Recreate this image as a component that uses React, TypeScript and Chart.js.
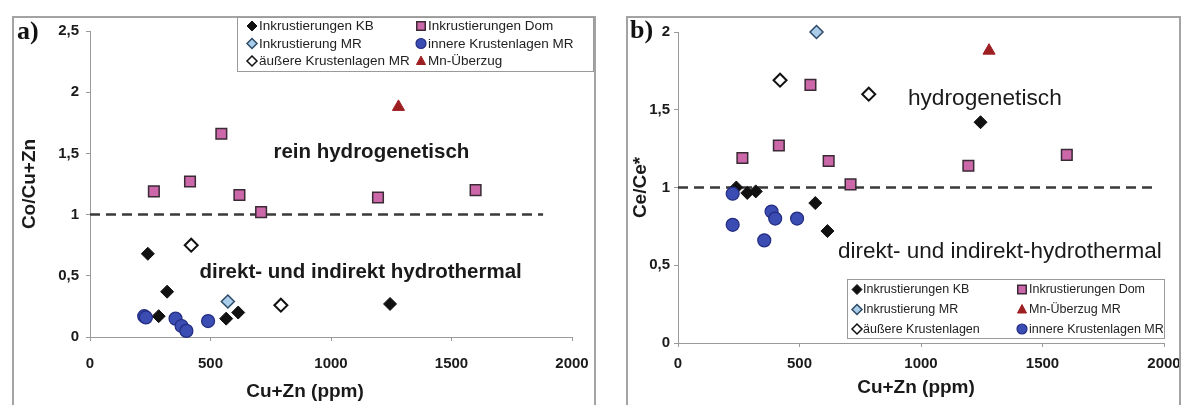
import React, { useEffect, useRef } from 'react';
import { Chart, registerables } from 'chart.js';

Chart.register(...registerables);

const FONT = "'Liberation Sans', Arial, Helvetica, sans-serif";
const SERIF = "'Liberation Serif', 'Times New Roman', serif";

// ---------------- axis ticks ----------------
const xTickValues = [0, 500, 1000, 1500, 2000];
const yTickValuesA = [0, 0.5, 1, 1.5, 2, 2.5];
const yTickValuesB = [0, 0.5, 1, 1.5, 2];

// ---------------- panel a: Co/Cu+Zn vs Cu+Zn ----------------
const kbXA = [240, 285, 320, 565, 615, 1245];
const kbYA = [0.68, 0.17, 0.37, 0.15, 0.2, 0.27];
const domXA = [265, 415, 545, 620, 710, 1195, 1600];
const domYA = [1.19, 1.27, 1.66, 1.16, 1.02, 1.14, 1.2];
const mrXA = [572];
const mrYA = [0.29];
const innerXA = [225, 232, 355, 380, 400, 490];
const innerYA = [0.17, 0.16, 0.15, 0.09, 0.05, 0.13];
const outerXA = [420, 792];
const outerYA = [0.75, 0.26];
const mnXA = [1280];
const mnYA = [1.88];
const refXA = [0, 1880];
const refYA = [1, 1];

// ---------------- panel b: Ce/Ce* vs Cu+Zn ----------------
const kbXB = [240, 285, 320, 565, 615, 1245];
const kbYB = [1.0, 0.965, 0.975, 0.9, 0.72, 1.42];
const domXB = [265, 415, 545, 620, 710, 1195, 1600];
const domYB = [1.19, 1.27, 1.66, 1.17, 1.02, 1.14, 1.21];
const mrXB = [570];
const mrYB = [2.0];
const innerXB = [225, 225, 355, 385, 400, 490];
const innerYB = [0.96, 0.76, 0.66, 0.845, 0.8, 0.8];
const outerXB = [420, 785];
const outerYB = [1.69, 1.6];
const mnXB = [1280];
const mnYB = [1.88];
const refXB = [0, 1965];
const refYB = [1, 1];

// ---------------- labels ----------------
const labelsA = {
  kb: 'Inkrustierungen KB',
  dom: 'Inkrustierungen Dom',
  mr: 'Inkrustierung MR',
  inner: 'innere Krustenlagen MR',
  outer: 'äußere Krustenlagen MR',
  mn: 'Mn-Überzug',
};
const labelsB = {
  kb: 'Inkrustierungen KB',
  dom: 'Inkrustierungen Dom',
  mr: 'Inkrustierung MR',
  inner: 'innere Krustenlagen MR',
  outer: 'äußere Krustenlagen',
  mn: 'Mn-Überzug MR',
};
const xTitle = 'Cu+Zn (ppm)';

// ---------------- styles ----------------
type Key = 'kb' | 'dom' | 'mr' | 'inner' | 'outer' | 'mn';
const STYLE: Record<Key, { pointStyle: string; fill: string; stroke: string; lw: number; r: number }> = {
  kb: { pointStyle: 'rectRot', fill: '#111111', stroke: '#111111', lw: 1, r: 6.5 },
  dom: { pointStyle: 'rect', fill: '#cc68aa', stroke: '#3a2a35', lw: 1.5, r: 7.5 },
  mr: { pointStyle: 'rectRot', fill: '#a9cdea', stroke: '#2e4a66', lw: 1.5, r: 6.5 },
  inner: { pointStyle: 'circle', fill: '#3b4cb2', stroke: '#222c80', lw: 1.2, r: 6.5 },
  outer: { pointStyle: 'rectRot', fill: '#ffffff', stroke: '#111111', lw: 2, r: 6.5 },
  mn: { pointStyle: 'triangle', fill: '#9e1f22', stroke: '#9e1f22', lw: 1, r: 7 },
};

const pts = (xs: number[], ys: number[]) => xs.map((x, i) => ({ x, y: ys[i] }));
const fmt = (v: number | string) => String(v).replace('.', ',');

type Note = { text: string; x: number; y: number; size: number; weight: string };

type PanelSpec = {
  series: { key: Key; xs: number[]; ys: number[] }[];
  labels: Record<Key, string>;
  refX: number[];
  refY: number[];
  yMax: number;
  yTicks: number[];
  yTitle: string;
  padTop: number;
  padRight: number;
  yAxisW: number;
  xAxisH: number;
  yTitlePad: number;
  yTickPad: number;
  xTickPad: number;
  xTitlePos: [number, number];
  panelLabel: string;
  panelLabelPos: [number, number];
  legendBox: [number, number, number, number];
  legendRows: number[];
  legendMarkerX: number[];
  legendTextX: number[];
  legendFont: number;
  legendItems: Key[][];
  notes: Note[];
};

const PANEL_A: PanelSpec = {
  series: [
    { key: 'inner', xs: innerXA, ys: innerYA },
    { key: 'mr', xs: mrXA, ys: mrYA },
    { key: 'outer', xs: outerXA, ys: outerYA },
    { key: 'kb', xs: kbXA, ys: kbYA },
    { key: 'dom', xs: domXA, ys: domYA },
    { key: 'mn', xs: mnXA, ys: mnYA },
  ],
  labels: labelsA,
  refX: refXA,
  refY: refYA,
  yMax: 2.5,
  yTicks: yTickValuesA,
  yTitle: 'Co/Cu+Zn',
  padTop: 15,
  padRight: 24,
  yAxisW: 78,
  xAxisH: 68,
  yTitlePad: 6.6,
  yTickPad: 7,
  xTickPad: 14,
  xTitlePos: [293, 376],
  panelLabel: 'a)',
  panelLabelPos: [5, 16],
  legendBox: [225, 1, 582, 56],
  legendRows: [10, 27.5, 45],
  legendMarkerX: [240, 409],
  legendTextX: [247, 416],
  legendFont: 13.5,
  legendItems: [
    ['kb', 'dom'],
    ['mr', 'inner'],
    ['outer', 'mn'],
  ],
  notes: [
    { text: 'rein hydrogenetisch', x: 761, y: 1.51, size: 20.5, weight: 'bold' },
    { text: 'direkt- und indirekt hydrothermal', x: 454, y: 0.53, size: 20.5, weight: 'bold' },
  ],
};

const PANEL_B: PanelSpec = {
  series: [
    { key: 'inner', xs: innerXB, ys: innerYB },
    { key: 'mr', xs: mrXB, ys: mrYB },
    { key: 'outer', xs: outerXB, ys: outerYB },
    { key: 'kb', xs: kbXB, ys: kbYB },
    { key: 'dom', xs: domXB, ys: domYB },
    { key: 'mn', xs: mnXB, ys: mnYB },
  ],
  labels: labelsB,
  refX: refXB,
  refY: refYB,
  yMax: 2,
  yTicks: yTickValuesB,
  yTitle: 'Ce/Ce*',
  padTop: 16,
  padRight: 17,
  yAxisW: 52,
  xAxisH: 62,
  yTitlePad: 3.6,
  yTickPad: 4,
  xTickPad: 8,
  xTitlePos: [290, 372],
  panelLabel: 'b)',
  panelLabelPos: [4, 15],
  legendBox: [221, 263, 539, 323],
  legendRows: [273.5, 293.5, 313],
  legendMarkerX: [231, 396],
  legendTextX: [237, 403],
  legendFont: 12.5,
  legendItems: [
    ['kb', 'dom'],
    ['mr', 'mn'],
    ['outer', 'inner'],
  ],
  notes: [
    { text: 'hydrogenetisch', x: 946, y: 1.57, size: 22.7, weight: 'normal' },
    { text: 'direkt- und indirekt-hydrothermal', x: 658, y: 0.585, size: 22.5, weight: 'normal' },
  ],
};

function drawMarker(ctx: CanvasRenderingContext2D, key: Key, x: number, y: number, r: number) {
  const st = STYLE[key];
  ctx.save();
  ctx.beginPath();
  if (st.pointStyle === 'rectRot') {
    ctx.moveTo(x, y - r);
    ctx.lineTo(x + r, y);
    ctx.lineTo(x, y + r);
    ctx.lineTo(x - r, y);
    ctx.closePath();
  } else if (st.pointStyle === 'rect') {
    const s = r * 0.85;
    ctx.rect(x - s, y - s, 2 * s, 2 * s);
  } else if (st.pointStyle === 'circle') {
    ctx.arc(x, y, r, 0, Math.PI * 2);
  } else {
    ctx.moveTo(x, y - r);
    ctx.lineTo(x + r * 0.9, y + r * 0.7);
    ctx.lineTo(x - r * 0.9, y + r * 0.7);
    ctx.closePath();
  }
  ctx.fillStyle = st.fill;
  ctx.fill();
  ctx.lineWidth = Math.min(st.lw, 1.5);
  ctx.strokeStyle = st.stroke;
  ctx.stroke();
  ctx.restore();
}

function makeDecor(p: PanelSpec) {
  return {
    id: 'decor',
    afterDatasetsDraw(chart: any) {
      const ctx: CanvasRenderingContext2D = chart.ctx;
      const xs = chart.scales.x;
      const ys = chart.scales.y;
      ctx.save();
      for (const n of p.notes) {
        ctx.font = `${n.weight} ${n.size}px ${FONT}`;
        ctx.fillStyle = '#1a1a1a';
        ctx.textAlign = 'left';
        ctx.textBaseline = 'middle';
        ctx.fillText(n.text, xs.getPixelForValue(n.x), ys.getPixelForValue(n.y));
      }
      ctx.restore();
    },
    afterDraw(chart: any) {
      const ctx: CanvasRenderingContext2D = chart.ctx;
      const W = chart.width;
      const H = chart.height;
      ctx.save();
      // frame
      ctx.strokeStyle = '#a3a3a3';
      ctx.lineWidth = 2;
      ctx.strokeRect(1, 1, W - 2, H + 20);
      // x axis title
      ctx.font = `bold 19px ${FONT}`;
      ctx.fillStyle = '#1a1a1a';
      ctx.textAlign = 'center';
      ctx.textBaseline = 'middle';
      ctx.fillText(xTitle, p.xTitlePos[0], p.xTitlePos[1]);
      // panel label
      ctx.font = `bold 26px ${SERIF}`;
      ctx.fillStyle = '#111';
      ctx.textAlign = 'left';
      ctx.textBaseline = 'middle';
      ctx.fillText(p.panelLabel, p.panelLabelPos[0], p.panelLabelPos[1]);
      // legend
      const [x0, y0, x1, y1] = p.legendBox;
      ctx.fillStyle = '#ffffff';
      ctx.fillRect(x0, y0, x1 - x0, y1 - y0);
      ctx.strokeStyle = '#9a9a9a';
      ctx.lineWidth = 1;
      ctx.strokeRect(x0 + 0.5, y0 + 0.5, x1 - x0 - 1, y1 - y0 - 1);
      ctx.font = `${p.legendFont}px ${FONT}`;
      ctx.textBaseline = 'middle';
      p.legendItems.forEach((row, ri) => {
        row.forEach((key, ci) => {
          const y = p.legendRows[ri];
          drawMarker(ctx, key, p.legendMarkerX[ci], y, 5);
          ctx.fillStyle = '#222';
          ctx.fillText(p.labels[key], p.legendTextX[ci], y + 0.5);
        });
      });
      ctx.restore();
    },
  };
}

function buildConfig(p: PanelSpec): any {
  const datasets: any[] = p.series.map((s) => {
    const st = STYLE[s.key];
    return {
      type: 'scatter',
      label: p.labels[s.key],
      data: pts(s.xs, s.ys),
      pointStyle: st.pointStyle,
      pointRadius: st.r,
      pointBackgroundColor: st.fill,
      pointBorderColor: st.stroke,
      pointBorderWidth: st.lw,
      showLine: false,
      clip: false,
    };
  });
  datasets.push({
    type: 'scatter',
    label: 'Grenze',
    data: pts(p.refX, p.refY),
    showLine: true,
    borderColor: '#3a3a3a',
    borderWidth: 2.5,
    borderDash: [10, 6],
    pointRadius: 0,
    fill: false,
    clip: false,
  });
  const tickFont = { family: FONT, size: 15, weight: 'bold' };
  const titleFont = { family: FONT, size: 19, weight: 'bold' };
  return {
    type: 'scatter',
    data: { datasets },
    plugins: [makeDecor(p)],
    options: {
      responsive: false,
      animation: false,
      events: [],
      layout: { padding: { left: 0, top: p.padTop, right: p.padRight, bottom: 0 } },
      plugins: { legend: { display: false }, tooltip: { enabled: false } },
      scales: {
        x: {
          type: 'linear',
          min: 0,
          max: 2000,
          afterBuildTicks: (s: any) => {
            s.ticks = xTickValues.map((value) => ({ value }));
          },
          afterFit: (s: any) => {
            s.height = p.xAxisH;
            s.paddingLeft = 0;
            s.paddingRight = 0;
          },
          ticks: { font: tickFont, color: '#1a1a1a', padding: p.xTickPad, maxRotation: 0, callback: (v: any) => fmt(v) },
          grid: { drawOnChartArea: false, drawTicks: true, tickLength: 4, color: '#9a9a9a', lineWidth: 1 },
          border: { display: true, color: '#9a9a9a', width: 1 },
          title: { display: false },
        },
        y: {
          type: 'linear',
          min: 0,
          max: p.yMax,
          afterBuildTicks: (s: any) => {
            s.ticks = p.yTicks.map((value) => ({ value }));
          },
          afterFit: (s: any) => {
            s.width = p.yAxisW;
            s.paddingTop = 0;
            s.paddingBottom = 0;
          },
          ticks: { font: tickFont, color: '#1a1a1a', padding: p.yTickPad, callback: (v: any) => fmt(v) },
          grid: { drawOnChartArea: false, drawTicks: true, tickLength: 4, color: '#9a9a9a', lineWidth: 1 },
          border: { display: true, color: '#9a9a9a', width: 1 },
          title: {
            display: true,
            text: p.yTitle,
            font: titleFont,
            color: '#1a1a1a',
            padding: { top: p.yTitlePad, bottom: 0 },
          },
        },
      },
    },
  };
}

export default function App() {
  const refA = useRef<HTMLCanvasElement>(null);
  const refB = useRef<HTMLCanvasElement>(null);
  useEffect(() => {
    Chart.defaults.font.family = FONT;
    const a = new Chart(refA.current as HTMLCanvasElement, buildConfig(PANEL_A));
    const b = new Chart(refB.current as HTMLCanvasElement, buildConfig(PANEL_B));
    return () => {
      a.destroy();
      b.destroy();
    };
  }, []);
  return (
    <div
      style={{
        position: 'fixed',
        left: 0,
        top: 0,
        width: 1185,
        height: 405,
        overflow: 'hidden',
        background: '#ffffff',
      }}
    >
      <canvas
        ref={refA}
        width={584}
        height={389}
        style={{ position: 'absolute', left: 12, top: 16, width: 584, height: 389 }}
      />
      <canvas
        ref={refB}
        width={555}
        height={389}
        style={{ position: 'absolute', left: 626, top: 16, width: 555, height: 389 }}
      />
    </div>
  );
}
